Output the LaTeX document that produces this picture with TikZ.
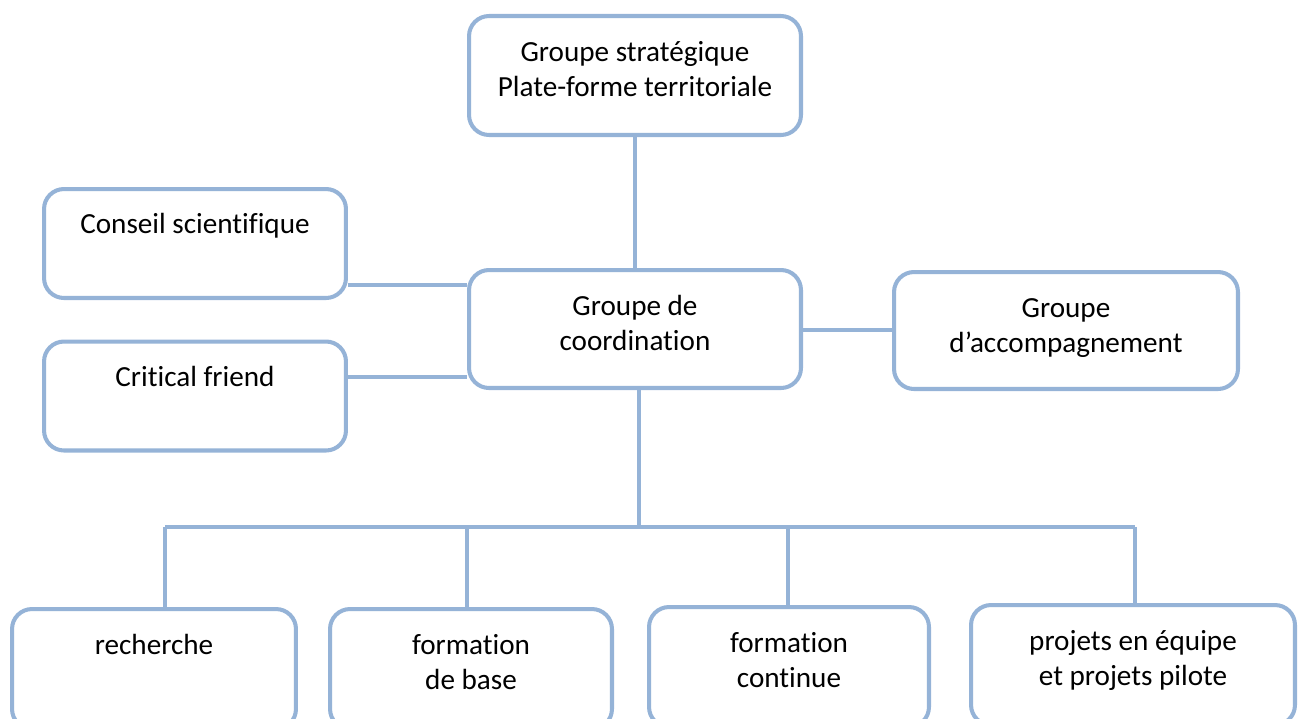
\documentclass[tikz,border=0pt]{standalone}
\usepackage{fontspec}
\setmainfont{Carlito}[Ligatures=NoCommon]
\usetikzlibrary{positioning}
\definecolor{linec}{RGB}{149,179,215}
\tikzset{
    box/.style={draw=linec, line width=2.3pt, rounded corners=0.4cm, fill=white, inner sep=0pt},
    lbl/.style={align=center, inner sep=0pt, anchor=base, font=\fontsize{16.6}{20.4}\selectfont},
    conn/.style={draw=linec, line width=2.3pt}
}
\begin{document}
\begin{tikzpicture}[x=0.02cm, y=-0.02cm]
    \useasboundingbox (0,0) rectangle (1300,718);
    \node[box, minimum width=6.64cm, minimum height=2.38cm] (strat) at (635,75.5) {};
    \node[box, minimum width=6.64cm, minimum height=2.36cm] (coord) at (635,329) {};
    \node[box, minimum width=6.04cm, minimum height=2.18cm] (cons) at (195,243.5) {};
    \node[box, minimum width=6.04cm, minimum height=2.18cm] (crit) at (195,396) {};
    \node[box, minimum width=6.88cm, minimum height=2.34cm] (acc) at (1066,330.5) {};
    \node[box, minimum width=5.68cm, minimum height=2.4cm] (rech) at (154,669) {};
    \node[box, minimum width=5.64cm, minimum height=2.4cm] (base) at (471,669) {};
    \node[box, minimum width=5.6cm, minimum height=2.4cm] (cont) at (789,667) {};
    \node[box, minimum width=6.48cm, minimum height=2.4cm] (proj) at (1133,665) {};
    % two-line labels sit on their last baseline
    \node[lbl] (strat-t) at ([yshift=-1.66cm]strat.north) {Groupe stratégique\\Plate-forme territoriale};
    \node[lbl] (coord-t) at ([yshift=-1.66cm]coord.north) {Groupe de\\coordination};
    \node[lbl] (cons-t) at ([yshift=-0.94cm]cons.north) {Conseil scientifique};
    \node[lbl] (crit-t) at ([yshift=-0.94cm]crit.north) {Critical friend};
    \node[lbl] (acc-t) at ([yshift=-1.66cm]acc.north) {Groupe\\d’accompagnement};
    \node[lbl] (rech-t) at ([yshift=-0.94cm]rech.north) {recherche};
    \node[lbl] (base-t) at ([yshift=-1.66cm]base.north) {formation\\de base};
    \node[lbl] (cont-t) at ([yshift=-1.66cm]cont.north) {formation\\continue};
    \node[lbl] (proj-t) at ([yshift=-1.66cm]proj.north) {projets en équipe\\et projets pilote};
    \coordinate (bus) at (639,527);
    \coordinate (d1) at (165,527);
    \coordinate (d2) at (467,527);
    \coordinate (d3) at (788,527);
    \coordinate (d4) at (1135,527);
    \coordinate (k1) at (0,285);
    \coordinate (k2) at (0,377);
    \coordinate (k3) at (0,330);
    \draw[conn] (strat) -- (coord);
    \draw[conn] (coord.south -| bus) -- (bus);
    \draw[conn] (d1) -- (d4);
    \draw[conn] (d1) -- (d1 |- rech.north);
    \draw[conn] (d2) -- (d2 |- base.north);
    \draw[conn] (d3) -- (d3 |- cont.north);
    \draw[conn] (d4) -- (d4 |- proj.north);
    \draw[conn] (k1 -| cons.east) -- (k1 -| coord.west);
    \draw[conn] (k2 -| crit.east) -- (k2 -| coord.west);
    \draw[conn] (k3 -| coord.east) -- (k3 -| acc.west);
\end{tikzpicture}
\end{document}
